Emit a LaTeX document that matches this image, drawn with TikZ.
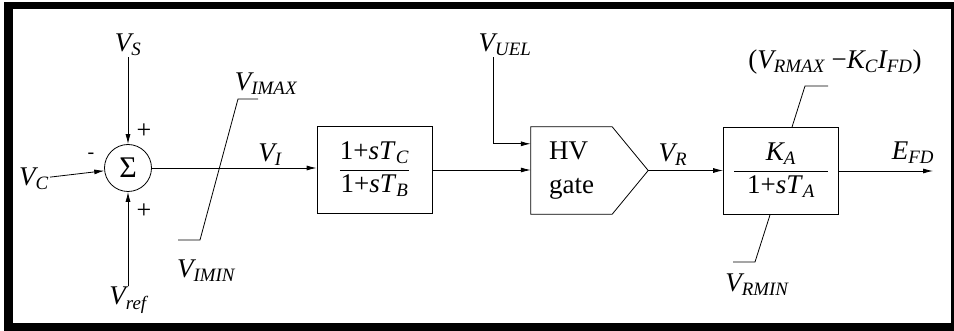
\documentclass[tikz,border=0pt]{standalone}
\usepackage{fontspec}
\setmainfont{Liberation Serif}
\usetikzlibrary{arrows.meta, calc}
\setlength{\arrayrulewidth}{0.8pt}

\newcommand{\sig}[2]{\textit{#1\textsubscript{#2}}}

\begin{document}
\begin{tikzpicture}[x=1pt, y=-1pt,
    font=\fontsize{27}{32}\selectfont,
    blk/.style={draw, line width=0.8pt, minimum width=115pt,
                minimum height=87pt, inner sep=0pt},
    lbl/.style={inner sep=1pt},
    sgn/.style={inner sep=0pt, font=\fontsize{26}{28}\selectfont},
    arr/.style={-{Latex[length=10pt, width=5pt]}, line width=0.8pt},
    lim/.style={line width=0.8pt}
  ]
    % frame
    \fill[white] (0,0) rectangle (954,331);
    \fill[black] (4,2) rectangle (954,9);
    \fill[black] (4,323) rectangle (954,331);
    \fill[black] (4,2) rectangle (13,331);
    \fill[black] (951,2) rectangle (954,331);

    % summing junction and its inputs
    \node[draw, circle, line width=0.8pt, minimum size=47pt, inner sep=0pt,
          font=\fontsize{30}{32}\selectfont] (sum) at (128,168) {\char"03A3};
    \node[lbl] (vs) at (128,45) {\sig{V}{S}};
    \node[lbl] (vc) at (34,179) {\sig{V}{C}};
    \node[lbl] (vref) at (128,300) {\sig{V}{ref}};
    \node[sgn] (p1) at (144,131) {+};
    \node[sgn] (p2) at (144,211) {+};
    \node[sgn, font=\fontsize{20}{22}\selectfont] (m1) at (91,156) {-};
    \draw[arr] (vs) -- (sum);
    \draw[arr] (vc) -- (sum);
    \draw[arr] (vref) -- (sum);

    % lead-lag block
    \node[blk] (lead) at (374.5,170)
      {\begin{tabular}{@{}c@{}}1+\textit{sT}\textsubscript{\textit{C}}\\ \hline
       1+\textit{sT}\textsubscript{\textit{B}}\end{tabular}};
    \node[lbl] (vi) at (270,155) {\sig{V}{I}};
    \draw[arr] (sum) -- (lead.west |- sum);

    % input limiter
    \draw[lim] (178,240) -- (200,240) -- (238,99) -- (258,99);
    \node[lbl] (vimax) at (266,84) {\sig{V}{IMAX}};
    \node[lbl] (vimin) at (206,271) {\sig{V}{IMIN}};

    % HV gate
    \node[minimum width=81pt, minimum height=87pt, inner sep=0pt,
          align=left] (gate) at (571.5,170.5) {HV\\[2pt]gate};
    \draw[line width=0.8pt] (gate.north west) -- (gate.north east)
      -- ($(gate.east)+(36,0)$) coordinate (tip)
      -- (gate.south east) -- (gate.south west) -- cycle;
    \draw[arr] (lead.east) -- (gate.west |- lead.east);
    \node[lbl] (vuel) at (505,45) {\sig{V}{UEL}};
    \draw[arr] ($(vuel.south)+(-12,0)$) |- ($(gate.north west)+(0,17)$);

    % regulator
    \node[blk] (amp) at (781,171)
      {\begin{tabular}{@{\hspace{13pt}}c@{\hspace{13pt}}}\sig{K}{A}\\ \hline
       1+\textit{sT}\textsubscript{\textit{A}}\end{tabular}};
    \node[lbl] (vr) at (673,155) {\sig{V}{R}};
    \draw[arr] (tip) -- (amp.west |- tip);
    \coordinate (efd) at (933,171);
    \node[lbl] (efdl) at (913,153) {\sig{E}{FD}};
    \draw[arr] (amp.east |- efd) -- (efd);

    % output limits
    \draw[lim] ($(amp.north)+(11,0)$) -- (805,86) -- (828,86);
    \draw[lim] ($(amp.south)+(-11,0)$) -- (755,262) -- (733,262);
    \node[lbl] (vrmax) at (835,62)
      {(\sig{V}{RMAX} \char"2212\sig{K}{C}\sig{I}{FD})};
    \node[lbl] (vrmin) at (757,285) {\sig{V}{RMIN}};
\end{tikzpicture}
\end{document}
